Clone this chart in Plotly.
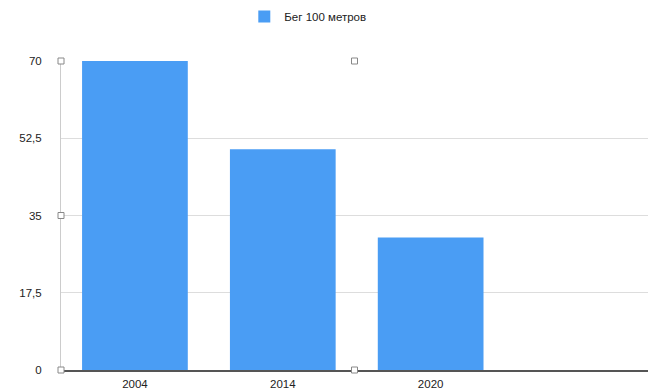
import plotly.graph_objects as go

years = ["2004", "2014", "2020"]
values = [70, 50, 30]
series_name = "Бег 100 метров"
y_ticks = [0, 17.5, 35, 52.5, 70]
y_tick_text = ["0", "17,5", "35", "52,5", "70"]

FONT = "Liberation Sans, Arial, sans-serif"

fig = go.Figure()
fig.add_trace(go.Bar(
    x=years,
    y=values,
    name=series_name,
    marker=dict(color="#4A9DF4", line_width=0),
))

# little editor handles drawn on the frame
handles = [(0, 1), (0.5, 1), (0, 0.5), (0, 0), (0.5, 0)]
for hx, hy in handles:
    fig.add_shape(
        type="rect", xref="paper", yref="paper",
        xsizemode="pixel", ysizemode="pixel",
        xanchor=hx, yanchor=hy,
        x0=-3, x1=3, y0=-3, y1=3,
        line=dict(color="#888888", width=1),
        fillcolor="white", layer="above",
    )

fig.update_layout(
    width=648, height=390,
    margin=dict(l=61, r=0, t=61, b=20, autoexpand=False),
    paper_bgcolor="white",
    plot_bgcolor="white",
    bargap=0.285,
    showlegend=True,
    legend=dict(
        orientation="h", xref="container", yref="container",
        x=0.475, xanchor="center", y=0.995, yanchor="top",
        font=dict(family=FONT, size=11.5, color="#222222"),
        itemwidth=30,
    ),
    font=dict(family=FONT, size=11, color="#222222"),
    xaxis=dict(
        type="category",
        categoryorder="array", categoryarray=years,
        range=[-0.5, 3.47],
        showgrid=False,
        showline=True, linecolor="#555555", linewidth=1.5,
        ticks="", ticklabelstandoff=2,
        tickfont=dict(size=11.5, color="#222222"),
        automargin=False,
    ),
    yaxis=dict(
        range=[0, 70],
        tickvals=y_ticks, ticktext=y_tick_text,
        showgrid=True, gridcolor="#DDDDDD", gridwidth=1,
        zeroline=False,
        showline=True, linecolor="#CCCCCC", linewidth=1,
        ticks="", ticklabelstandoff=16,
        tickfont=dict(size=11.5, color="#222222"),
        automargin=False,
    ),
)

fig.write_html(
    "out.html",
    config={"displayModeBar": False},
    post_script="document.body.style.margin='0';document.body.style.overflow='hidden';",
)
